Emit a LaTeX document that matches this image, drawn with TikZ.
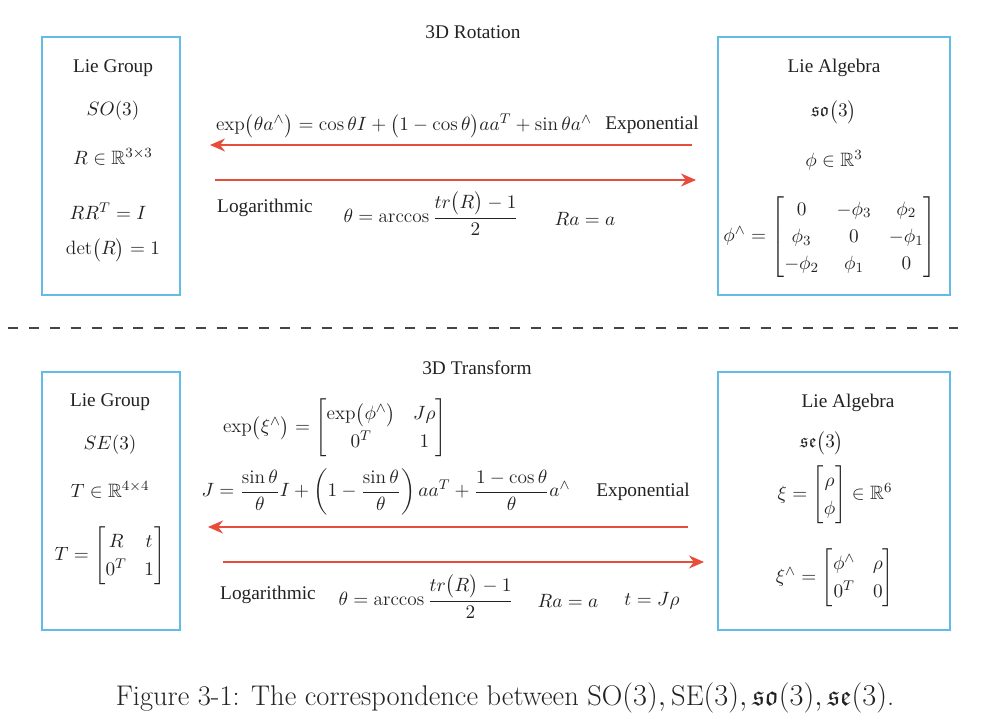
\documentclass[tikz,border=0pt]{standalone}
\usepackage{amsmath,amssymb}
\usepackage{fontspec}
\usepackage{tikz}
\usetikzlibrary{arrows.meta}
\newfontfamily\figfont{Liberation Serif}
\definecolor{boxblue}{HTML}{62BDE6}
\definecolor{maparrowred}{HTML}{E84C3A}
\definecolor{inkgray}{HTML}{222222}
\definecolor{dashgray}{HTML}{444444}
\renewcommand{\arraystretch}{1.2}

\tikzset{
  liebox/.style={draw=boxblue, line width=1.1pt, minimum height=5.16cm},
  lbl/.style={text=inkgray, font=\figfont\fontsize{11}{13}\selectfont, inner sep=0.5pt},
  maparrow/.style={draw=maparrowred, line width=1.1pt, -{Stealth[length=3mm, width=2.6mm]}}
}

\begin{document}
\begin{tikzpicture}[x=0.02cm, y=-0.02cm]
    \useasboundingbox (0,0) rectangle (986,722);

    % rotation part
    \node[lbl] (rottitle) at (473,32) {3D Rotation};
    \node[liebox, minimum width=2.76cm] (so3group) at (111,166) {};
    \node[liebox, minimum width=4.64cm] (so3alg) at (834,166) {};

    \node[lbl] (so3grouplbl) at (113,68) {Lie Group};
    \node[lbl] (so3name) at (113,111) {$SO(3)$};
    \node[lbl] (so3space) at (113,157) {$R\in\mathbb{R}^{3\times 3}$};
    \node[lbl] (so3orth) at (108,211) {$RR^{T}=I$};
    \node[lbl] (so3det) at (113,250) {$\det\bigl(R\bigr)=1$};

    \node[lbl] (so3alglbl) at (834,68) {Lie Algebra};
    \node[lbl] (so3algname) at (834,112) {$\mathfrak{so}\bigl(3\bigr)$};
    \node[lbl] (so3algspace) at (834,160) {$\phi\in\mathbb{R}^{3}$};
    \node[lbl] (so3hat) at (830,237) {$\phi^{\wedge}=\begin{bmatrix}0&-\phi_3&\phi_2\\ \phi_3&0&-\phi_1\\ -\phi_2&\phi_1&0\end{bmatrix}$};

    \coordinate (rotexpstart) at (692,145);
    \coordinate (rotexpend) at (210,145);
    \coordinate (rotlogstart) at (215,180);
    \coordinate (rotlogend) at (696,180);
    \draw[maparrow] (rotexpstart) -- (rotexpend);
    \draw[maparrow] (rotlogstart) -- (rotlogend);

    \node[lbl] (rotexpformula) at (404,126) {$\exp\bigl(\theta a^{\wedge}\bigr)=\cos\theta I+\bigl(1-\cos\theta\bigr)aa^{T}+\sin\theta a^{\wedge}$};
    \node[lbl] (rotexplbl) at (652,125) {Exponential};
    \node[lbl] (rotloglbl) at (265,208) {Logarithmic};
    \node[lbl] (rotangle) at (431,214) {$\theta=\arccos\dfrac{tr\bigl(R\bigr)-1}{2}$};
    \node[lbl] (rotaxis) at (585,219) {$Ra=a$};

    % separator
    \draw[dashgray, line width=1.1pt, dash pattern=on 5.7pt off 6.2pt] (8,328) -- (958,328);

    % transform part
    \node[lbl] (tftitle) at (477,368) {3D Transform};
    \node[liebox, minimum width=2.76cm] (se3group) at (111,501) {};
    \node[liebox, minimum width=4.64cm] (se3alg) at (834,501) {};

    \node[lbl] (se3grouplbl) at (110,402) {Lie Group};
    \node[lbl] (se3name) at (110,445) {$SE(3)$};
    \node[lbl] (se3space) at (110,490) {$T\in\mathbb{R}^{4\times 4}$};
    \node[lbl] (se3mat) at (110,556) {$T=\begin{bmatrix}R&t\\ 0^{T}&1\end{bmatrix}$};

    \node[lbl] (se3alglbl) at (848,403) {Lie Algebra};
    \node[lbl] (se3algname) at (822,443) {$\mathfrak{se}\bigl(3\bigr)$};
    \node[lbl] (se3algspace) at (835,495) {$\xi=\begin{bmatrix}\rho\\ \phi\end{bmatrix}\in\mathbb{R}^{6}$};
    \node[lbl] (se3hat) at (835,578) {$\xi^{\wedge}=\begin{bmatrix}\phi^{\wedge}&\rho\\ 0^{T}&0\end{bmatrix}$};

    \coordinate (tfexpstart) at (688,527);
    \coordinate (tfexpend) at (208,527);
    \coordinate (tflogstart) at (223,562);
    \coordinate (tflogend) at (704,562);
    \draw[maparrow] (tfexpstart) -- (tfexpend);
    \draw[maparrow] (tflogstart) -- (tflogend);

    \node[lbl] (tfexpformula) at (335,428) {$\exp\bigl(\xi^{\wedge}\bigr)=\begin{bmatrix}\exp\bigl(\phi^{\wedge}\bigr)&J\rho\\ 0^{T}&1\end{bmatrix}$};
    \node[lbl] (tfjacobian) at (386,492) {$J=\dfrac{\sin\theta}{\theta}I+\left(1-\dfrac{\sin\theta}{\theta}\right)aa^{T}+\dfrac{1-\cos\theta}{\theta}a^{\wedge}$};
    \node[lbl] (tfexplbl) at (643,492) {Exponential};
    \node[lbl] (tfloglbl) at (268,595) {Logarithmic};
    \node[lbl] (tfangle) at (426,597) {$\theta=\arccos\dfrac{tr\bigl(R\bigr)-1}{2}$};
    \node[lbl] (tfaxis) at (568,601) {$Ra=a$};
    \node[lbl] (tftrans) at (652,601) {$t=J\rho$};

    % caption
    \node[font=\fontsize{16.2}{19}\selectfont, text=inkgray] (caption) at (505,698) {Figure 3-1: The correspondence between $\mathrm{SO}(3),\mathrm{SE}(3),\mathfrak{so}(3),\mathfrak{se}(3)$.};
\end{tikzpicture}
\end{document}
